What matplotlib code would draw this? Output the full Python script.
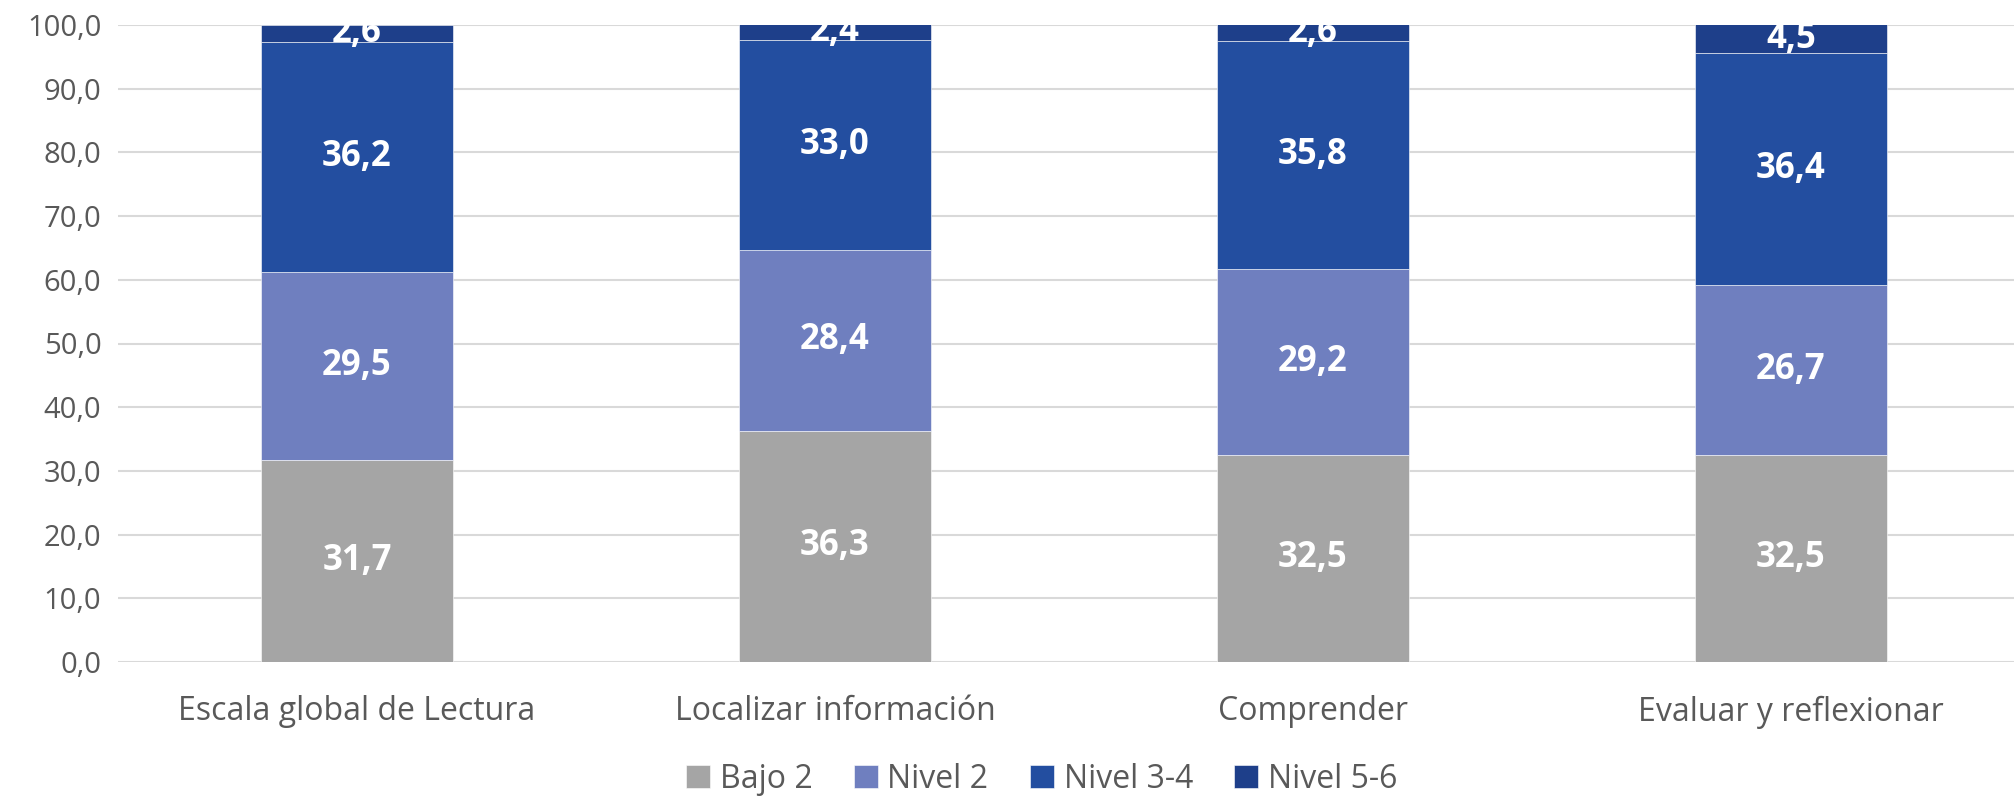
import matplotlib.pyplot as plt
import numpy as np

# Data
categorias = ['Escala global de Lectura', 'Localizar información', 'Comprender', 'Evaluar y reflexionar']
bajo_2 = [31.7, 36.3, 32.5, 32.5]
nivel_2 = [29.5, 28.4, 29.2, 26.7]
nivel_3_4 = [36.2, 33.0, 35.8, 36.4]
nivel_5_6 = [2.6, 2.4, 2.6, 4.5]

series = [('Bajo 2', bajo_2, '#A5A5A5'),
          ('Nivel 2', nivel_2, '#6F7FBF'),
          ('Nivel 3-4', nivel_3_4, '#234EA0'),
          ('Nivel 5-6', nivel_5_6, '#1E3F8A')]

plt.rcParams['font.family'] = ['Open Sans', 'DejaVu Sans']
gris = '#595959'

fig = plt.figure(figsize=(20.15, 7.96), dpi=100)
ax = fig.add_axes([118 / 2015, 1 - 662 / 796, 1912 / 2015, 637 / 796])

x = np.arange(len(categorias))
base = np.zeros(len(categorias))
for nombre, valores, color in series:
    vals = np.array(valores)
    ax.bar(x, vals, 0.4, bottom=base, color=color, label=nombre,
           edgecolor='white', linewidth=0.4, zorder=2)
    for xi, b, v in zip(x, base, vals):
        ax.text(xi, b + v / 2, f'{v:.1f}'.replace('.', ','), ha='center', va='center',
                color='white', fontsize=25, fontweight='bold', zorder=3)
    base += vals

ax.set_xlim(-0.5, 3.5)
ax.set_ylim(0, 100)
ax.set_yticks(np.arange(0, 101, 10))
ax.set_yticklabels([f'{v:.1f}'.replace('.', ',') for v in np.arange(0, 101, 10)])
ax.set_xticks(x)
ax.set_xticklabels(categorias)
ax.tick_params(axis='y', length=0, labelsize=21, colors=gris, pad=12)
ax.tick_params(axis='x', length=0, labelsize=23, colors=gris, pad=24)
ax.grid(axis='y', color='#D9D9D9', linewidth=1.5, zorder=0)
ax.set_axisbelow(True)
for s in ax.spines.values():
    s.set_visible(False)

fig.legend(loc='center', bbox_to_anchor=(0.517, 0.021), ncol=4, frameon=False,
           fontsize=23, handlelength=0.75, handleheight=0.75, handletextpad=0.3,
           columnspacing=1.3, labelcolor=gris)

fig.savefig('out.png', dpi=100)
